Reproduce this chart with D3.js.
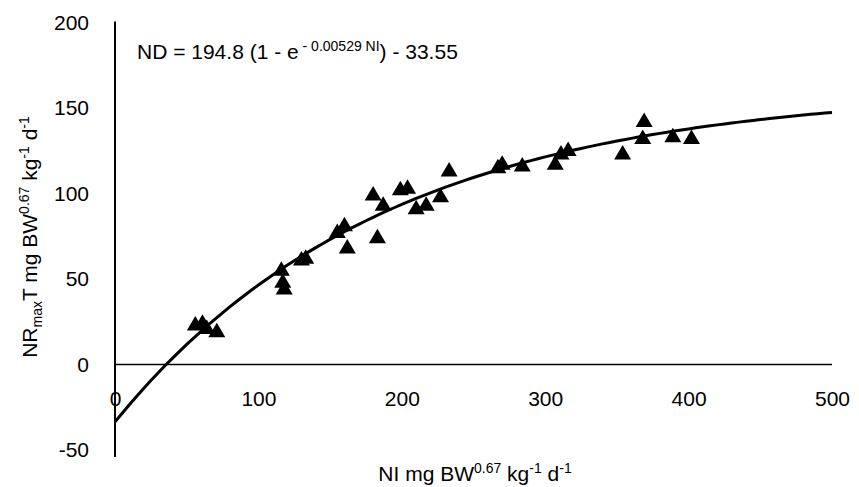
<!DOCTYPE html>
<html>
<head>
<meta charset="utf-8">
<title>NR max T vs NI</title>
<script src="https://cdn.jsdelivr.net/npm/d3@7/dist/d3.min.js"></script>
<style>
  body { margin: 0; background: #fff; }
  text { font-family: "Liberation Sans", Arial, sans-serif; fill: #000; }
</style>
</head>
<body>
<svg id="chart"></svg>
<script>
var ni = [56, 61, 64, 71, 116, 117, 118, 130, 133, 155, 160, 162, 180, 183, 187, 199, 204, 210, 217, 227, 233, 267, 270, 284, 307, 311, 316, 354, 368, 369, 389, 402];
var nd = [24, 25, 22, 20, 56, 49, 45, 62, 63, 78, 82, 69, 100, 75, 94, 103, 104, 92, 94, 99, 114, 116, 118, 117, 118, 124, 126, 124, 133, 143, 134, 133];

// fitted curve, coefficients as printed on the chart
var fitA = 194.8, fitK = 0.00529, fitC = 33.55;
var fitX = d3.range(0, 501, 5);

var xTicks = [0, 100, 200, 300, 400, 500];
var yTicks = [-50, 0, 50, 100, 150, 200];

var width = 859, height = 487;

var x = d3.scaleLinear().domain([0, 500]).range([115, 832]);
var y = d3.scaleLinear().domain([-50, 200]).range([450, 22.5]);

var svg = d3.select('#chart')
  .attr('width', width)
  .attr('height', height);

// axes (labels only, lines drawn separately)
var fmt = d => String(d);
var xAxis = d3.axisBottom(x).tickValues(xTicks).tickFormat(fmt).tickSize(0).tickPadding(27);
var yAxis = d3.axisLeft(y).tickValues(yTicks).tickFormat(fmt).tickSize(0).tickPadding(26);

var gx = svg.append('g')
  .attr('transform', 'translate(0,' + y(0) + ')')
  .call(xAxis);
var gy = svg.append('g')
  .attr('transform', 'translate(' + x(0) + ',0)')
  .call(yAxis);

[gx, gy].forEach(function (g) {
  g.select('.domain').remove();
  g.selectAll('text')
    .style('font-family', '"Liberation Sans", Arial, sans-serif')
    .style('font-size', '21px')
    .attr('fill', '#000');
});

svg.append('line')
  .attr('x1', x(0)).attr('x2', x(0))
  .attr('y1', y(200) - 1).attr('y2', y(-50) + 7)
  .attr('stroke', '#000').attr('stroke-width', 2);

svg.append('line')
  .attr('x1', x(0)).attr('x2', x(500))
  .attr('y1', y(0)).attr('y2', y(0))
  .attr('stroke', '#000').attr('stroke-width', 1.4);

// fitted line
var line = d3.line()
  .x(d => x(d))
  .y(d => y(fitA * (1 - Math.exp(-fitK * d)) - fitC));

svg.append('path')
  .datum(fitX)
  .attr('d', line)
  .attr('fill', 'none')
  .attr('stroke', '#000')
  .attr('stroke-width', 3);

// triangle markers
var tri = 'M0,-7.5L8.5,7L-8.5,7Z';
svg.selectAll('.pt')
  .data(ni)
  .enter()
  .append('path')
  .attr('class', 'pt')
  .attr('d', tri)
  .attr('transform', (d, i) => 'translate(' + x(d) + ',' + y(nd[i]) + ')')
  .attr('fill', '#000');

// equation
var eq = svg.append('text')
  .attr('x', 137)
  .attr('y', 59)
  .style('font-size', '21px');
eq.append('tspan').text('ND = 194.8 (1 - e');
eq.append('tspan').attr('dy', -8).style('font-size', '14px').text(' - 0.00529 NI');
eq.append('tspan').attr('dy', 8).text(') - 33.55');

// x axis title
var xt = svg.append('text')
  .attr('x', 475)
  .attr('y', 481)
  .attr('text-anchor', 'middle')
  .style('font-size', '21px');
xt.append('tspan').text('NI mg BW');
xt.append('tspan').attr('dy', -8).style('font-size', '14px').text('0.67');
xt.append('tspan').attr('dy', 8).text(' kg');
xt.append('tspan').attr('dy', -8).style('font-size', '14px').text('-1');
xt.append('tspan').attr('dy', 8).text(' d');
xt.append('tspan').attr('dy', -8).style('font-size', '14px').text('-1');

// y axis title
var yt = svg.append('text')
  .attr('transform', 'translate(37,237) rotate(-90)')
  .attr('text-anchor', 'middle')
  .style('font-size', '21px');
yt.append('tspan').text('NR');
yt.append('tspan').attr('dy', 5).style('font-size', '14px').text('max');
yt.append('tspan').attr('dy', -5).text('T mg BW');
yt.append('tspan').attr('dy', -8).style('font-size', '14px').text('0.67');
yt.append('tspan').attr('dy', 8).text(' kg');
yt.append('tspan').attr('dy', -8).style('font-size', '14px').text('-1');
yt.append('tspan').attr('dy', 8).text(' d');
yt.append('tspan').attr('dy', -8).style('font-size', '14px').text('-1');
</script>
</body>
</html>
